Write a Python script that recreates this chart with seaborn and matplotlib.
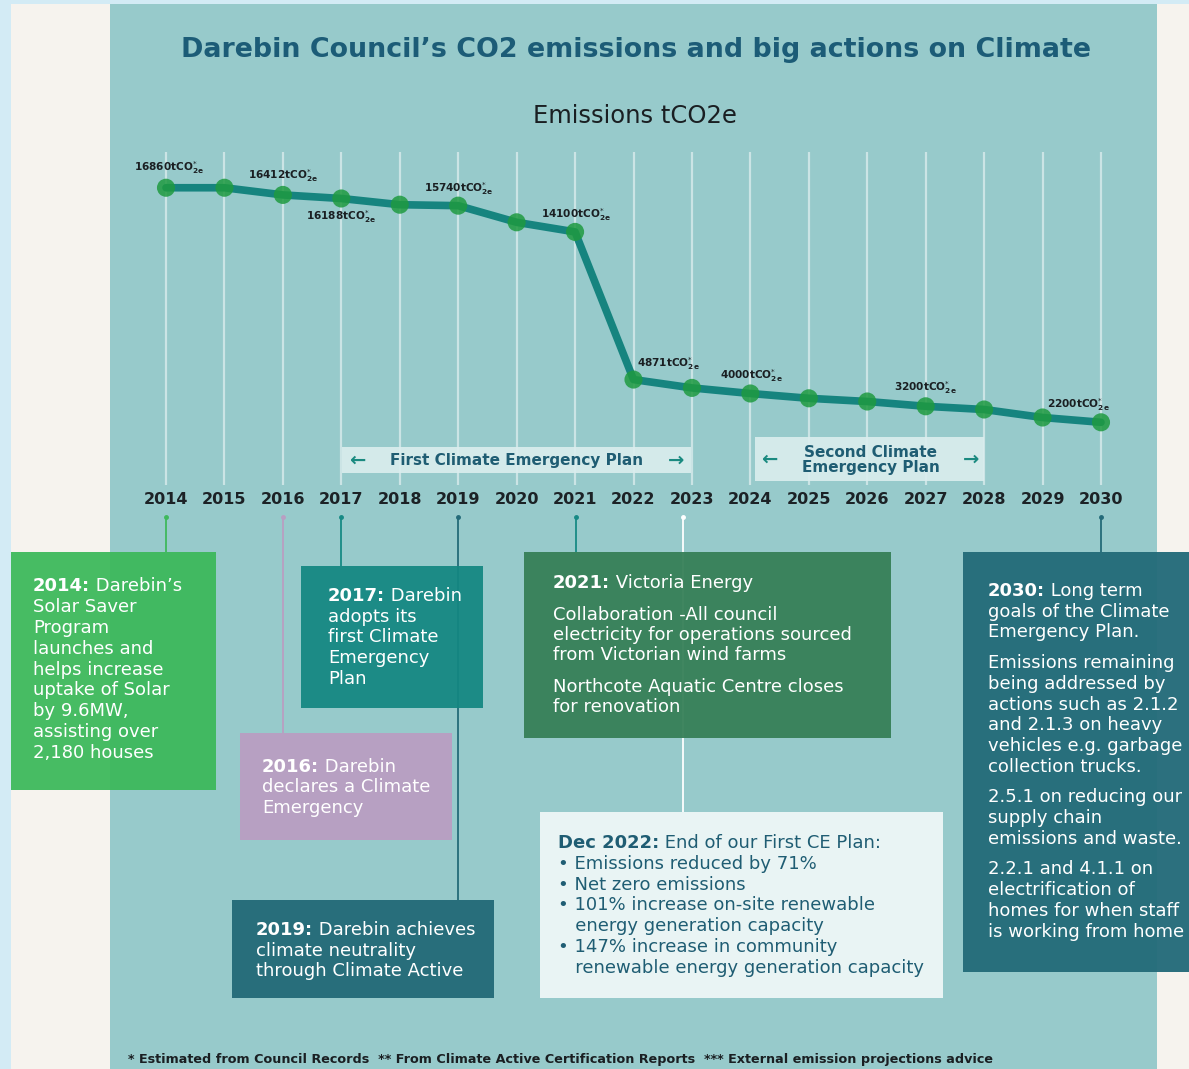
import matplotlib
matplotlib.use('Agg')
import matplotlib.pyplot as plt
import matplotlib.patches as mpatches
import seaborn as sns
import pandas as pd

# ---------------- data ----------------
years = list(range(2014, 2031))
emissions = [16860, 16860, 16412, 16188, 15800, 15740, 14700, 14100,
             4871, 4350, 4000, 3700, 3500, 3200, 3000, 2500, 2200]
label_years = [2014, 2016, 2017, 2019, 2021, 2022, 2024, 2027, 2030]
label_values = [16860, 16412, 16188, 15740, 14100, 4871, 4000, 3200, 2200]

title = "Darebin Council’s CO2 emissions and big actions on Climate"
subtitle = "Emissions tCO2e"
footnote = ("* Estimated from Council Records  ** From Climate Active Certification Reports  "
            "*** External emission projections advice")
first_plan = "First Climate Emergency Plan"
second_plan = "Second Climate\nEmergency Plan"

box_2014 = [["**2014:** Darebin’s", "Solar Saver", "Program", "launches and",
             "helps increase", "uptake of Solar", "by 9.6MW,", "assisting over", "2,180 houses"]]
box_2017 = [["**2017:** Darebin", "adopts its", "first Climate", "Emergency", "Plan"]]
box_2016 = [["**2016:** Darebin", "declares a Climate", "Emergency"]]
box_2019 = [["**2019:** Darebin achieves", "climate neutrality", "through Climate Active"]]
box_2021 = [["**2021:** Victoria Energy"],
            ["Collaboration -All council", "electricity for operations sourced",
             "from Victorian wind farms"],
            ["Northcote Aquatic Centre closes", "for renovation"]]
box_2022 = [["**Dec 2022:** End of our First CE Plan:", "• Emissions reduced by 71%",
             "• Net zero emissions", "• 101% increase on-site renewable",
             "   energy generation capacity", "• 147% increase in community",
             "   renewable energy generation capacity"]]
box_2030 = [["**2030:** Long term", "goals of the Climate", "Emergency Plan."],
            ["Emissions remaining", "being addressed by", "actions such as 2.1.2",
             "and 2.1.3 on heavy", "vehicles e.g. garbage", "collection trucks."],
            ["2.5.1 on reducing our", "supply chain", "emissions and waste."],
            ["2.2.1 and 4.1.1 on", "electrification of", "homes for when staff",
             "is working from home"]]

df = pd.DataFrame({"year": years, "tco2e": emissions})

# ---------------- styling ----------------
sns.set_theme(style="white")
plt.rcParams['font.family'] = ['DejaVu Sans']
plt.rcParams['mathtext.fontset'] = 'dejavusans'

W, H = 1189, 1069
fig = plt.figure(figsize=(W / 100, H / 100), dpi=100)

# background layer in pixel coordinates
bg = fig.add_axes([0, 0, 1, 1], zorder=0)
bg.set_xlim(0, W); bg.set_ylim(H, 0); bg.axis('off')
bg.add_patch(mpatches.Rectangle((0, 0), W, H, color='#d3ebf5', lw=0))
bg.add_patch(mpatches.Rectangle((11, 4), W - 11, H, color='#f6f3ee', lw=0))
bg.add_patch(mpatches.Rectangle((110, 4), 1047, H, color='#97cacb', lw=0))
bg.text(636, 50, title, ha='center', va='center', fontsize=19.4, fontweight='bold', color='#1c5c77')
bg.text(635, 116, subtitle, ha='center', va='center', fontsize=17.5, color='#1a1f22')
bg.text(128, 1060, footnote, ha='left', va='center', fontsize=9.2, fontweight='bold', color='#1a1f22')

# ---------------- chart ----------------
ppy = (1101 - 166) / 16.0
ax = fig.add_axes([110 / W, 1 - 485 / H, 1047 / W, (485 - 152) / H], zorder=1)
ax.set_facecolor('none')
sns.lineplot(data=df, x='year', y='tco2e', ax=ax, color='#16847f', lw=5.5, zorder=3)
sns.scatterplot(data=df, x='year', y='tco2e', ax=ax, color='#1f9a40', s=170, alpha=0.85,
                edgecolor='none', zorder=4)
ax.set_xlim(2014 - 56 / ppy, 2030 + 56 / ppy)
ax.set_ylim(-1719, 19094)
ax.set_xticks(years)
ax.set_yticks([])
ax.set_xlabel(''); ax.set_ylabel('')
for s in ax.spines.values():
    s.set_visible(False)
ax.grid(axis='x', color='white', alpha=0.5, lw=1.6, zorder=0)
ax.tick_params(axis='x', length=0, pad=5, labelsize=11.5, labelcolor='#1c2226')
for t in ax.get_xticklabels():
    t.set_fontweight('bold')

offsets = [(3, 20), (0, 19), (0, -18), (1, 17), (1, 17), (35, 16), (1, 18), (0, 19), (-23, 18)]
for yr, v, (dx, dy) in zip(label_years, label_values, offsets):
    ax.annotate(f"{v}tCO$_{{\\mathbf{{2e}}}}^{{*}}$", xy=(yr, v), xytext=(dx, dy),
                textcoords='offset pixels', ha='center', va='center',
                fontsize=7.6, fontweight='bold', color='#1a1f22', zorder=5)

# ---------------- overlay (plans, connectors, event boxes) ----------------
ov = fig.add_axes([0, 0, 1, 1], zorder=2)
ov.set_facecolor('none')
ov.set_xlim(0, W); ov.set_ylim(H, 0); ov.axis('off')

# plan boxes
ov.add_patch(mpatches.Rectangle((342, 447), 349, 26, color='#dbeeee', alpha=0.9, lw=0))
ov.text(517, 461, first_plan, ha='center', va='center', fontsize=11, fontweight='bold', color='#1f5d73')
ov.text(357, 460, "←", ha='center', va='center', fontsize=14, fontweight='bold', color='#1a8a80')
ov.text(676, 460, "→", ha='center', va='center', fontsize=14, fontweight='bold', color='#1a8a80')
ov.add_patch(mpatches.Rectangle((755, 437), 229, 44, color='#dbeeee', alpha=0.9, lw=0))
ov.text(871, 460, second_plan, ha='center', va='center', fontsize=11, fontweight='bold',
        color='#1f5d73', linespacing=1.05)
ov.text(769, 459, "←", ha='center', va='center', fontsize=14, fontweight='bold', color='#1a8a80')
ov.text(971, 459, "→", ha='center', va='center', fontsize=14, fontweight='bold', color='#1a8a80')

# connectors: (x, y_end, colour)
connectors = [(166, 552, '#3fb95c'), (283, 733, '#b99ec2'), (341, 566, '#178a85'),
              (458, 900, '#246b79'), (576, 552, '#178a85'), (683, 812, '#ffffff'),
              (1101, 552, '#246b79')]
for x, y2, c in connectors:
    ov.plot([x, x], [517, y2], color=c, lw=1.3, zorder=1, solid_capstyle='butt')
    ov.plot([x], [517], marker='o', ms=2.5, color=c, zorder=1)


def draw_box(x, y, w, h, color, alpha, paras, tx, ty, step, gap, tcolor, fs):
    ov.add_patch(mpatches.Rectangle((x, y), w, h, color=color, alpha=alpha, lw=0, zorder=2))
    yy = ty
    for para in paras:
        for line in para:
            if line.startswith('**'):
                head, rest = line[2:].split('**', 1)
                t = ov.text(tx, yy, head, ha='left', va='center', fontsize=fs, color=tcolor,
                            fontweight='bold', zorder=3, clip_on=False)
                ov.annotate(rest, xy=(1, 0), xycoords=t, ha='left', va='bottom',
                            fontsize=fs, color=tcolor, zorder=3, annotation_clip=False)
            else:
                ov.text(tx, yy, line, ha='left', va='center', fontsize=fs, color=tcolor,
                        zorder=3, clip_on=False)
            yy += step
        yy += gap


draw_box(11, 552, 205, 238, '#3db95b', 0.95, box_2014, 33, 586, 20.9, 0, 'white', 13)
draw_box(301, 566, 182, 142, '#148782', 0.94, box_2017, 328, 596, 20.75, 0, 'white', 13)
draw_box(240, 733, 212, 107, '#b99ec2', 0.95, box_2016, 262, 767, 20.5, 0, 'white', 13)
draw_box(232, 900, 262, 98, '#246b79', 0.97, box_2019, 256, 930, 20.5, 0, 'white', 13)
draw_box(524, 552, 367, 186, '#357f56', 0.94, box_2021, 553, 583, 20.5, 11, 'white', 13)
draw_box(540, 812, 403, 186, '#e9f4f4', 1.0, box_2022, 558, 843, 20.8, 0, '#1f5d73', 13)
draw_box(963, 552, 226, 420, '#246b79', 0.96, box_2030, 988, 591, 20.7, 10, 'white', 13)

fig.savefig('out.png', dpi=100)
